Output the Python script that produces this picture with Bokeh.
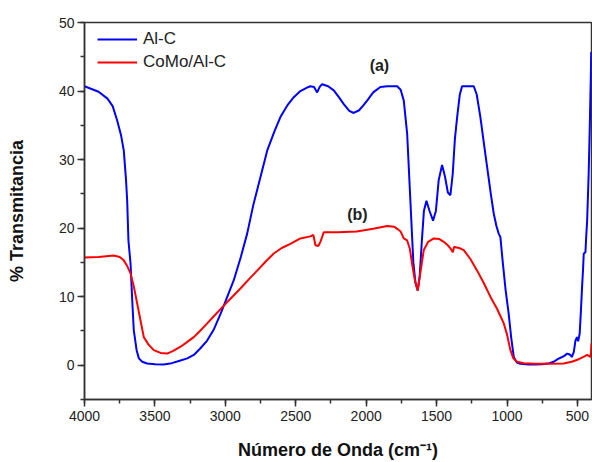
from bokeh.plotting import figure
from bokeh.models import Range1d, SingleIntervalTicker, Legend, LegendItem
from bokeh.core.properties import value
from bokeh.embed import file_html
from bokeh.resources import INLINE

# Al-C (a)
alc_wn = [4000, 3900, 3837, 3800, 3768, 3740, 3721, 3705, 3697, 3688, 3673, 3660, 3650, 3630,
          3614, 3590, 3555, 3500, 3439, 3380, 3318, 3270, 3224, 3180, 3129, 3080, 3034, 2990,
          2940, 2890, 2845, 2800, 2750, 2703, 2650, 2609, 2560, 2514, 2467, 2420, 2396, 2370,
          2348, 2330, 2313, 2270, 2230, 2190, 2159, 2120, 2088, 2050, 2020, 1993, 1950, 1899,
          1850, 1780, 1755, 1733, 1709, 1686, 1665, 1650, 1634, 1620, 1605, 1590, 1572, 1550,
          1525, 1505, 1485, 1461, 1440, 1420, 1402, 1385, 1370, 1354, 1335, 1319, 1236, 1215,
          1189, 1165, 1141, 1115, 1094, 1075, 1059, 1047, 1030, 1010, 988, 970, 952, 930, 905,
          850, 800, 750, 700, 668, 640, 609, 590, 573, 560, 550, 540, 526, 518, 514, 503, 495,
          484, 475, 467, 460, 455, 448, 443, 437, 431, 420, 412, 405, 402]
alc_t = [40.7, 39.9, 38.9, 37.8, 35.7, 33.5, 31.3, 27.0, 24.0, 18.2, 14.8, 9.0, 5.1, 2.2,
         1.0, 0.5, 0.25, 0.15, 0.1, 0.3, 0.7, 1.0, 1.5, 2.4, 3.6, 5.3, 7.5, 9.8,
         12.4, 15.8, 19.2, 23.5, 27.5, 31.3, 34.2, 36.2, 37.9, 39.1, 40.0, 40.5, 40.7, 40.6,
         39.8, 40.6, 41.0, 40.7, 40.1, 39.0, 38.1, 37.1, 36.8, 37.2, 37.9, 38.6, 39.8, 40.6,
         40.7, 40.7, 40.2, 38.6, 33.8, 24.0, 15.0, 12.0, 10.9, 13.0, 18.0, 22.5, 24.0, 22.5,
         21.1, 22.5, 27.0, 29.2, 27.5, 25.2, 24.8, 28.0, 33.0, 36.2, 39.5, 40.7, 40.7, 39.5,
         36.2, 32.5, 28.9, 25.0, 22.1, 20.3, 19.2, 18.7, 15.0, 11.0, 7.5, 4.0, 1.2, 0.4, 0.2,
         0.1, 0.1, 0.15, 0.3, 0.5, 0.9, 1.2, 1.4, 1.7, 1.6, 1.5, 1.2, 1.9, 3.0, 3.6, 4.1, 3.5,
         4.6, 8.0, 11.4, 14.0, 16.3, 16.4, 16.5, 19.0, 21.0, 28.0, 35.0, 42.0, 45.7]

# CoMo/Al-C (b)
como_wn = [4000, 3900, 3792, 3750, 3721, 3700, 3673, 3650, 3626, 3600, 3579, 3545, 3508, 3460,
           3413, 3370, 3318, 3270, 3224, 3180, 3129, 3070, 3011, 2950, 2893, 2830, 2774, 2715,
           2656, 2600, 2538, 2467, 2396, 2375, 2360, 2340, 2325, 2301, 2200, 2067, 1950, 1851,
           1800, 1780, 1755, 1733, 1709, 1690, 1674, 1655, 1634, 1615, 1591, 1560, 1520, 1480,
           1449, 1420, 1400, 1385, 1375, 1366, 1340, 1307, 1260, 1212, 1165, 1118, 1070, 1023,
           1000, 976, 955, 929, 880, 800, 700, 597, 540, 500, 479, 450, 431, 408, 403, 400]
como_t = [15.7, 15.8, 16.0, 15.8, 15.3, 14.6, 13.4, 11.5, 9.0, 6.3, 4.1, 3.0, 2.2, 1.8,
          1.7, 2.1, 2.7, 3.4, 4.1, 5.0, 6.1, 7.4, 8.7, 10.0, 11.2, 12.6, 13.8, 15.1,
          16.3, 17.1, 17.7, 18.5, 18.8, 19.0, 17.5, 17.4, 18.0, 19.4, 19.4, 19.5, 19.9, 20.3,
          20.2, 19.9, 19.5, 18.5, 18.2, 17.0, 14.8, 12.5, 10.9, 13.5, 16.8, 18.0, 18.5, 18.4,
          18.0, 17.5, 17.0, 16.5, 17.3, 17.2, 17.1, 16.8, 15.5, 13.8, 12.0, 10.0, 8.2, 6.1,
          4.5, 2.2, 1.0, 0.5, 0.3, 0.2, 0.2, 0.25, 0.5, 0.8, 1.0, 1.3, 1.5, 1.2, 2.0, 3.2]

series_names = ["Al-C", "CoMo/Al-C"]
annot_labels = ["(a)", "(b)"]
annot_x = [1906, 2062]
annot_y = [43.7, 22.0]

FONT = "Liberation Sans"

p = figure(width=592, height=462, output_backend="svg", toolbar_location=None,
           x_range=Range1d(4000, 400), y_range=Range1d(-5, 50),
           min_border_left=84, min_border_right=1, min_border_top=22, min_border_bottom=63)
p.grid.visible = False
p.outline_line_color = "#333333"
p.outline_line_width = 1.5
p.background_fill_color = "white"
p.border_fill_color = "white"

p.xaxis.ticker = SingleIntervalTicker(interval=500, num_minor_ticks=2)
p.yaxis.ticker = SingleIntervalTicker(interval=10, num_minor_ticks=2)

for ax in (p.xaxis[0], p.yaxis[0]):
    ax.axis_line_color = "#333333"
    ax.axis_line_width = 1.5
    ax.major_tick_line_color = "#333333"
    ax.minor_tick_line_color = "#333333"
    ax.major_tick_line_width = 1.5
    ax.minor_tick_line_width = 1.5
    ax.major_tick_in = 0
    ax.major_tick_out = 7
    ax.minor_tick_in = 0
    ax.minor_tick_out = 4
    ax.major_label_text_font = FONT
    ax.major_label_text_font_size = "14px"
    ax.major_label_text_color = "#222222"
    ax.axis_label_text_font = FONT
    ax.axis_label_text_font_size = "18px"
    ax.axis_label_text_font_style = "bold"
    ax.axis_label_text_color = "#111111"

p.xaxis.axis_label = "Número de Onda (cm⁻¹)"
p.yaxis.axis_label = "% Transmitancia"
p.xaxis.major_label_standoff = 4
p.yaxis.major_label_standoff = 3
p.xaxis.axis_label_standoff = 16
p.yaxis.axis_label_standoff = 29

r1 = p.line(alc_wn, alc_t, line_color="#0000FF", line_width=2)
r2 = p.line(como_wn, como_t, line_color="#FF0000", line_width=2)

p.text(x=annot_x, y=annot_y, text=annot_labels, text_font=value(FONT),
       text_font_size="16px", text_font_style="bold", text_color="#222222",
       text_align="center", text_baseline="middle")

legend = Legend(items=[LegendItem(label=series_names[0], renderers=[r1]),
                       LegendItem(label=series_names[1], renderers=[r2])],
                location=(8, 322), border_line_alpha=0, background_fill_alpha=0,
                padding=5, margin=0, spacing=3, glyph_width=40, glyph_height=20,
                label_height=20, label_standoff=6,
                label_text_font=FONT, label_text_font_size="17px", label_text_color="#222222")
p.add_layout(legend)

open("out.html", "w").write(file_html(p, INLINE))
